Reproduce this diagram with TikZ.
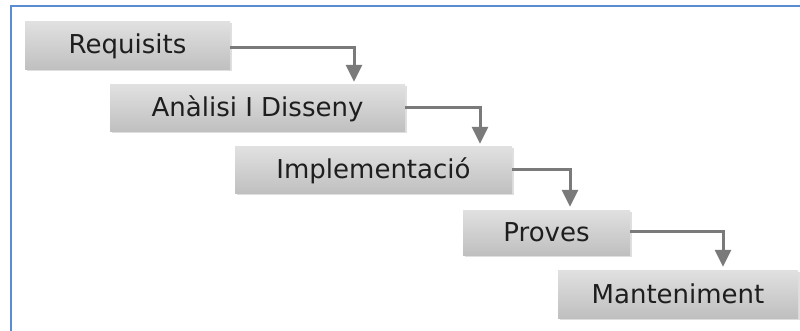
\documentclass[tikz,border=0pt]{standalone}
\usepackage{fontspec}
\setmainfont{DejaVu Sans}
\usetikzlibrary{shadows,arrows.meta}
\definecolor{frameblue}{HTML}{5B8BD0}
\definecolor{arrowgray}{HTML}{7A7A7A}
\definecolor{txt}{HTML}{1E1E1E}
\tikzset{
  stage/.style={draw=none, top color=gray!24, bottom color=gray!50, text=txt,
    font=\fontsize{26}{30}\selectfont, inner sep=0pt, anchor=center,
    drop shadow={shadow xshift=1.5pt, shadow yshift=-1.5pt, opacity=0.25, fill=gray}},
  flow/.style={draw=arrowgray, line width=3pt, -{Triangle[length=17pt,width=16pt]}}
}
\begin{document}
\begin{tikzpicture}[x=1pt,y=-1pt]
\useasboundingbox (0,0) rectangle (800,331);
\draw[frameblue, line width=2.2pt] (11,331) -- (11,6) -- (800,6);
\node[stage, minimum width=205pt, minimum height=48pt] (req) at (127.5,46) {Requisits};
\node[stage, minimum width=295pt, minimum height=47pt] (ana) at (257.5,108.5) {Anàlisi I Disseny};
\node[stage, minimum width=277pt, minimum height=47pt] (imp) at (373.5,170.5) {Implementació};
\node[stage, minimum width=167pt, minimum height=45pt] (pro) at (546.5,232.5) {Proves};
\node[stage, minimum width=240pt, minimum height=48pt] (man) at (678,294) {Manteniment};
\coordinate (c1) at (354,48);
\coordinate (c2) at (480,108);
\coordinate (c3) at (570,170);
\coordinate (c4) at (723,231);
\draw[flow] (req.east |- c1) -- (c1) -- ([yshift=3pt]c1 |- ana.north);
\draw[flow] (ana.east |- c2) -- (c2) -- ([yshift=3pt]c2 |- imp.north);
\draw[flow] (imp.east |- c3) -- (c3) -- ([yshift=3pt]c3 |- pro.north);
\draw[flow] (pro.east |- c4) -- (c4) -- ([yshift=3pt]c4 |- man.north);
\end{tikzpicture}
\end{document}
